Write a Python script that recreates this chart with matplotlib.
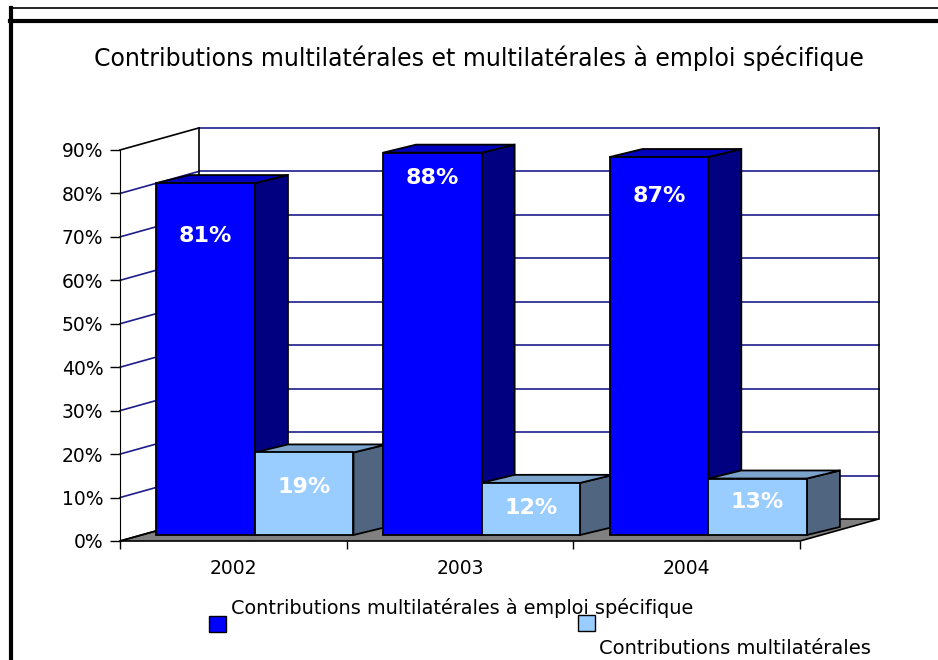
import matplotlib
matplotlib.use('Agg')
import matplotlib.pyplot as plt
from matplotlib.patches import Polygon
from matplotlib.lines import Line2D

years = ['2002', '2003', '2004']
specific = [81, 88, 87]   # Contributions multilatérales à emploi spécifique
multi = [19, 12, 13]      # Contributions multilatérales
names = ['Contributions multilatérales à emploi spécifique',
         'Contributions multilatérales']
y_ticks = list(range(0, 100, 10))

W, H = 938, 660

# 3d look (data units)
WALL_DX, WALL_DY = 0.347, 5.06
SHIFT_DX, SHIFT_DY = 0.095, 1.38
BAR_DX, BAR_DY = 0.146, 1.85
BAR_W = 0.435

# label drop below bar top, per bar (Excel placed them unevenly)
drop_specific = [12.2, 5.8, 9.0]
drop_multi = [8.0, 5.8, 5.5]

dark = ('#0000FF', '#0000C0', '#000080')
light = ('#99CCFF', '#7BA3CC', '#4F6580')
navy = '#1C1C8C'


def px(x, y):
    return x / W, 1 - y / H


def draw_box(ax, x0, x1, h, cols, z):
    front, top, side = cols
    bx0, bx1 = x0 + SHIFT_DX, x1 + SHIFT_DX
    b, t = SHIFT_DY, SHIFT_DY + h
    kw = dict(edgecolor='black', linewidth=1.3, clip_on=False, zorder=z,
              joinstyle='miter')
    ax.add_patch(Polygon([(bx1, b), (bx1 + BAR_DX, b + BAR_DY),
                          (bx1 + BAR_DX, t + BAR_DY), (bx1, t)],
                         facecolor=side, **kw))
    ax.add_patch(Polygon([(bx0, t), (bx1, t), (bx1 + BAR_DX, t + BAR_DY),
                          (bx0 + BAR_DX, t + BAR_DY)], facecolor=top, **kw))
    ax.add_patch(Polygon([(bx0, b), (bx1, b), (bx1, t), (bx0, t)],
                         facecolor=front, **kw))
    return (bx0 + bx1) / 2, t


fig = plt.figure(figsize=(W / 100, H / 100), dpi=100)
plt.rcParams['font.family'] = ['DejaVu Sans']

ax = fig.add_axes([120 / W, 1 - 541 / H, 680 / W, 391 / H])
ax.set_xlim(0.5, 3.5)
ax.set_ylim(0, 90)
ax.patch.set_visible(False)

# floor
ax.add_patch(Polygon([(0.5, 0), (3.5, 0), (3.5 + WALL_DX, WALL_DY),
                      (0.5 + WALL_DX, WALL_DY)], facecolor='#808080',
                     edgecolor='black', linewidth=1.2, clip_on=False, zorder=1))

# walls and gridlines
for v in y_ticks[1:]:
    ax.plot([0.5 + WALL_DX, 3.5 + WALL_DX], [v + WALL_DY, v + WALL_DY],
            color=navy, lw=1.2, clip_on=False, zorder=2)
    ax.plot([0.5, 0.5 + WALL_DX], [v, v + WALL_DY],
            color=navy if v < 90 else 'black', lw=1.2, clip_on=False, zorder=2)
ax.plot([0.5 + WALL_DX] * 2, [WALL_DY, 90 + WALL_DY], color='black', lw=1.2,
        clip_on=False, zorder=2)
ax.plot([3.5 + WALL_DX] * 2, [WALL_DY, 90 + WALL_DY], color='black', lw=1.2,
        clip_on=False, zorder=2)
ax.plot([0.5, 0.5 + WALL_DX], [0, WALL_DY], color='black', lw=1.2,
        clip_on=False, zorder=2)

# bars, back to front left to right
z = 3
for i in range(len(years)):
    c = i + 1
    xc, t = draw_box(ax, c - BAR_W, c, specific[i], dark, z)
    ax.text(xc, t - drop_specific[i], f'{specific[i]}%', color='white',
            fontsize=16, fontweight='bold', ha='center', va='center', zorder=z + 1)
    xc, t = draw_box(ax, c, c + BAR_W, multi[i], light, z + 2)
    ax.text(xc, t - drop_multi[i], f'{multi[i]}%', color='white',
            fontsize=16, fontweight='bold', ha='center', va='center', zorder=z + 3)
    z += 4

# axes
for s in ['top', 'right']:
    ax.spines[s].set_visible(False)
ax.spines['left'].set_zorder(50)
ax.spines['bottom'].set_visible(False)
ax.set_yticks(y_ticks)
ax.set_yticklabels([f'{v}%' for v in y_ticks])
ax.tick_params(axis='y', length=7, width=1, pad=5, labelsize=13.5)
ax.set_xticks([1, 2, 3])
ax.set_xticklabels(years)
ax.set_xticks([0.5, 1.5, 2.5, 3.5], minor=True)
ax.tick_params(axis='x', which='major', length=0, pad=13, labelsize=13.5)
ax.tick_params(axis='x', which='minor', length=6, width=1)

# title
fig.text(*px(479, 58), 'Contributions multilatérales et multilatérales à emploi spécifique',
         ha='center', va='center', fontsize=17)

# legend as drawn in the source
for (x0, y0), col in [((209, 616), dark[0]), ((578, 615), light[0])]:
    fig.add_artist(plt.Rectangle(px(x0, y0 + 16), 17 / W, 16 / H,
                                 facecolor=col, edgecolor='black', lw=1,
                                 transform=fig.transFigure))
fig.text(*px(231, 608), names[0], ha='left', va='center', fontsize=13.9)
fig.text(*px(599, 648), names[1], ha='left', va='center', fontsize=14)

# outer frame
fig.add_artist(Line2D([10 / W, 1], [1 - 8 / H] * 2, color='black', lw=1.2,
                      transform=fig.transFigure))
fig.add_artist(Line2D([10 / W, 1], [1 - 20.5 / H] * 2, color='black', lw=3,
                      transform=fig.transFigure))
fig.add_artist(Line2D([10.5 / W] * 2, [0, 1 - 8 / H], color='black', lw=3,
                      transform=fig.transFigure))

fig.savefig('out.png', dpi=100)
